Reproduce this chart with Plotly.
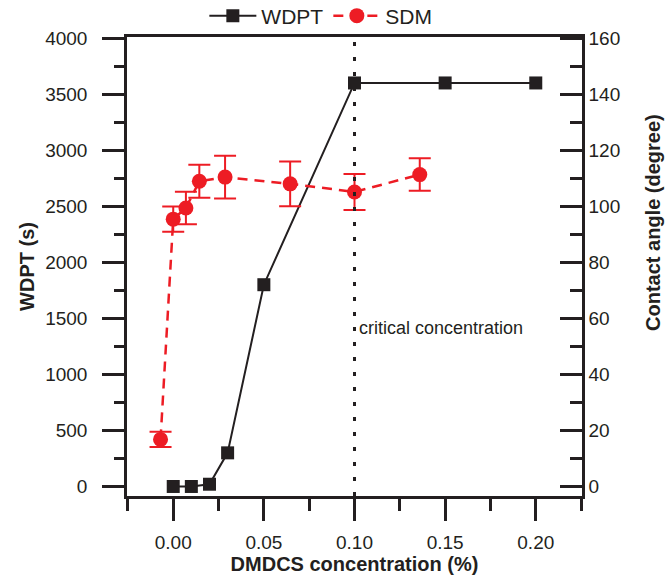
import plotly.graph_objects as go

# WDPT data (left axis)
wdpt_x = [0.00, 0.01, 0.02, 0.03, 0.05, 0.10, 0.15, 0.20]
wdpt_y = [0, 0, 20, 300, 1800, 3600, 3600, 3600]

# SDM contact angle data (right axis)
sdm_x = [-0.007, 0.000, 0.007, 0.0144, 0.0286, 0.0645, 0.100, 0.136]
sdm_y = [16.8, 95.4, 99.4, 108.9, 110.4, 108.0, 105.1, 111.3]
sdm_err = [2.7, 4.5, 5.8, 5.9, 7.6, 8.0, 6.4, 5.8]

x_ticks = [0.00, 0.05, 0.10, 0.15, 0.20]
x_ticklabels = ["0.00", "0.05", "0.10", "0.15", "0.20"]
critical_x = 0.10

BLACK = "#231F20"
RED = "#ED1C24"
FONT = "Arial, Liberation Sans, Helvetica, sans-serif"

W, H = 669, 581

fig = go.Figure()

fig.add_trace(go.Scatter(
    x=wdpt_x, y=wdpt_y, name="WDPT", mode="lines+markers",
    line=dict(color=BLACK, width=2),
    marker=dict(symbol="square", size=13, color=BLACK),
    yaxis="y",
))

fig.add_trace(go.Scatter(
    x=sdm_x, y=sdm_y, name="SDM", mode="lines+markers",
    line=dict(color=RED, width=2.5, dash="10px,7px"),
    marker=dict(symbol="circle", size=15, color=RED),
    error_y=dict(type="data", array=sdm_err, visible=True,
                 color=RED, thickness=2, width=11),
    yaxis="y2",
))

fig.add_shape(type="line", xref="x", yref="paper",
              x0=critical_x, x1=critical_x, y0=0, y1=1,
              line=dict(color=BLACK, width=3, dash="4px,11px"))

fig.add_annotation(text="critical concentration", xref="x", yref="y",
                   x=critical_x, y=1410, xanchor="left", yanchor="middle",
                   xshift=2, showarrow=False,
                   font=dict(family=FONT, size=18, color=BLACK))

fig.add_annotation(text="<b>Contact angle (degree)</b>", xref="paper", yref="paper",
                   x=1.156, y=0.597, xanchor="center", yanchor="middle",
                   textangle=-90, showarrow=False,
                   font=dict(family=FONT, size=20, color=BLACK))

axis_common = dict(
    showgrid=False, zeroline=False, automargin=False,
    showline=True, linecolor=BLACK, linewidth=2.5,
    tickcolor=BLACK, tickwidth=2.5,
    tickfont=dict(family=FONT, size=19, color=BLACK),
)

fig.update_layout(
    width=W, height=H,
    margin=dict(l=127, r=87, t=37, b=85, autoexpand=False),
    paper_bgcolor="white", plot_bgcolor="white",
    font=dict(family=FONT, color=BLACK),
    showlegend=True,
    legend=dict(orientation="h", x=0.17, xanchor="left",
                yref="container", y=1 - 16 / H, yanchor="middle",
                font=dict(family=FONT, size=21, color=BLACK),
                itemwidth=47, bgcolor="rgba(0,0,0,0)"),
    xaxis=dict(
        **axis_common,
        range=[-0.0255, 0.2255],
        tickmode="array", tickvals=x_ticks, ticktext=x_ticklabels,
        ticks="outside", ticklen=22, ticklabelstandoff=5,
        minor=dict(dtick=0.025, tick0=0, ticks="outside", ticklen=12,
                   tickcolor=BLACK, tickwidth=2.5),
        mirror=True,
        title=dict(text="<b>DMDCS concentration (%)</b>",
                   font=dict(family=FONT, size=20, color=BLACK), standoff=6),
    ),
    yaxis=dict(
        **axis_common,
        range=[-85, 4010],
        tick0=0, dtick=500,
        ticks="outside", ticklen=22, ticklabelstandoff=11,
        minor=dict(dtick=250, tick0=0, ticks="outside", ticklen=10,
                   tickcolor=BLACK, tickwidth=2.5),
        title=dict(text="<b>WDPT (s)</b>",
                   font=dict(family=FONT, size=20, color=BLACK), standoff=6),
    ),
    yaxis2=dict(
        **axis_common,
        overlaying="y", side="right",
        range=[-3.4, 160.4],
        tick0=0, dtick=20,
        ticks="inside", ticklen=22,
        minor=dict(dtick=10, tick0=0, ticks="inside", ticklen=12,
                   tickcolor=BLACK, tickwidth=2.5),
    ),
)

# remove the browser's default 8px body margin so the figure fills the window
fig.write_html("out.html",
               config={"displayModeBar": False},
               post_script="document.body.style.margin='0';"
                           "document.body.style.overflow='hidden';")
